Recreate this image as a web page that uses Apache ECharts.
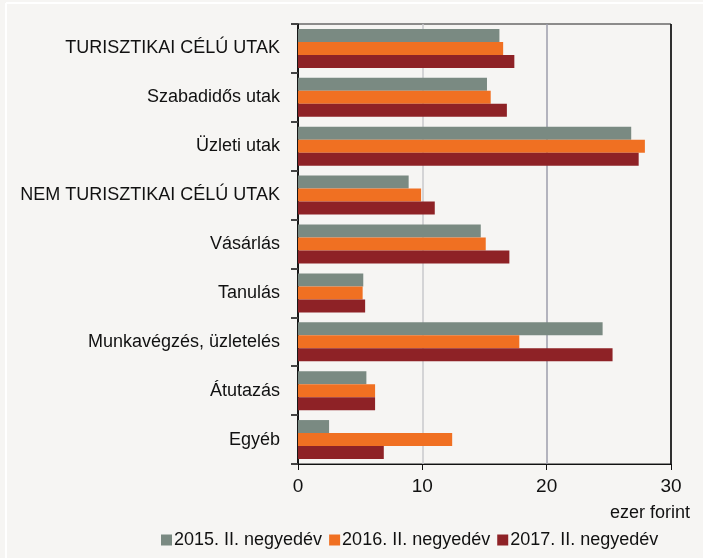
<!DOCTYPE html>
<html>
<head>
<meta charset="utf-8">
<script src="https://cdn.jsdelivr.net/npm/echarts@6/dist/echarts.min.js"></script>
<style>
  html, body { margin: 0; padding: 0; background: #f6f5f3; }
  #main { width: 703px; height: 558px; }
</style>
</head>
<body>
<div id="main"></div>
<script>
// kategóriák (felülről lefelé)
var categories = [
  'TURISZTIKAI CÉLÚ UTAK',
  'Szabadidős utak',
  'Üzleti utak',
  'NEM TURISZTIKAI CÉLÚ UTAK',
  'Vásárlás',
  'Tanulás',
  'Munkavégzés, üzletelés',
  'Átutazás',
  'Egyéb'
];
var seriesNames = ['2015. II. negyedév', '2016. II. negyedév', '2017. II. negyedév'];
var values2015 = [16.2, 15.2, 26.8, 8.9, 14.7, 5.25, 24.5, 5.5, 2.5];
var values2016 = [16.5, 15.5, 27.9, 9.9, 15.1, 5.2, 17.8, 6.2, 12.4];
var values2017 = [17.4, 16.8, 27.4, 11.0, 17.0, 5.4, 25.3, 6.2, 6.9];
var xTicks = [0, 10, 20, 30];

var colors = ['#7a8a82', '#f07022', '#8e2226'];
var font = 'Liberation Sans';

var chart = echarts.init(document.getElementById('main'));

function bar(name, data, color) {
  return {
    name: name,
    type: 'bar',
    data: data,
    barWidth: 13,
    barGap: '0%',
    itemStyle: { color: color },
    animation: false
  };
}

chart.setOption({
  backgroundColor: '#f6f5f3',
  animation: false,
  color: colors,
  graphic: [
    { type: 'line', shape: { x1: 6, y1: 3, x2: 703, y2: 3 }, style: { stroke: '#ffffff', lineWidth: 2 } },
    { type: 'line', shape: { x1: 6, y1: 3, x2: 6, y2: 558 }, style: { stroke: '#ffffff', lineWidth: 2 } },
    { type: 'text', right: 13, top: 504,
      style: { text: 'ezer forint', font: '18px "' + font + '"', fill: '#111' } }
  ],
  grid: {
    left: 298, right: 32, top: 24, bottom: 94,
    show: true, borderColor: '#222', borderWidth: 1, backgroundColor: 'transparent'
  },
  legend: {
    data: seriesNames,
    bottom: 4,
    left: 156,
    itemWidth: 11, itemHeight: 11, itemGap: 7,
    icon: 'rect',
    textStyle: { fontFamily: font, fontSize: 18, color: '#111', padding: [0, 0, 0, -3] }
  },
  xAxis: {
    type: 'value',
    min: 0, max: 30, interval: 10,
    axisLine: { show: true, lineStyle: { color: '#111', width: 1 } },
    axisTick: { show: true, length: 6, lineStyle: { color: '#111' } },
    axisLabel: {
      fontFamily: font, fontSize: 19, color: '#111', margin: 13,
      formatter: function (v) { return xTicks.indexOf(v) >= 0 ? String(v) : ''; }
    },
    splitLine: { show: true, lineStyle: { color: ['#111', '#c9c9cc', '#9d9dab', '#111'], width: 1.5 } }
  },
  yAxis: {
    type: 'category',
    data: categories,
    inverse: true,
    axisLine: { show: true, lineStyle: { color: '#111', width: 1.5 } },
    axisTick: { show: true, length: 7, lineStyle: { color: '#444', width: 2 } },
    axisLabel: { fontFamily: font, fontSize: 18, color: '#111', margin: 18 }
  },
  series: [
    bar(seriesNames[0], values2015, colors[0]),
    bar(seriesNames[1], values2016, colors[1]),
    bar(seriesNames[2], values2017, colors[2])
  ]
});
</script>
</body>
</html>
